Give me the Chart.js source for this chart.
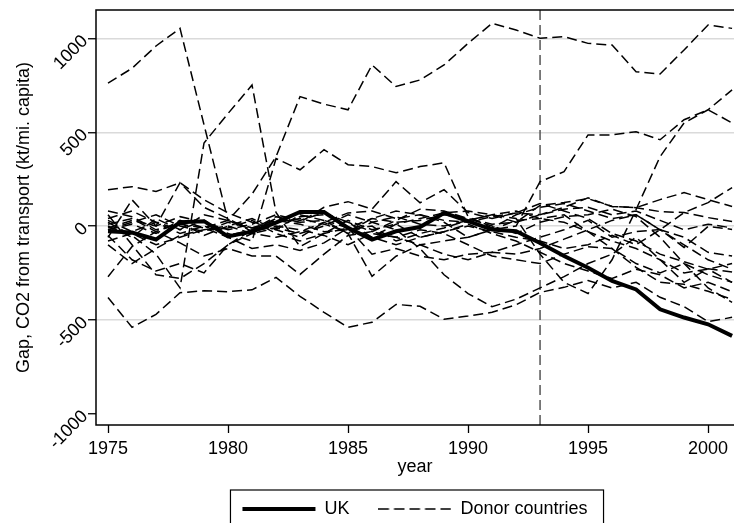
<!DOCTYPE html>
<html>
<head>
<meta charset="utf-8">
<script src="https://cdn.jsdelivr.net/npm/chart.js@4.4.0/dist/chart.umd.min.js"></script>
<style>
  body { margin: 0; background: #fff; }
  #wrap { width: 734px; height: 523px; }
</style>
</head>
<body>
<div id="wrap"><canvas id="gap-Chart"></canvas></div>
<script>
// -------------------- DATA --------------------

const years = [1975, 1976, 1977, 1978, 1979, 1980, 1981, 1982, 1983, 1984, 1985, 1986, 1987, 1988,
  1989, 1990, 1991, 1992, 1993, 1994, 1995, 1996, 1997, 1998, 1999, 2000, 2001];

// UK gap (thick solid line)
const ukGap = [-28, -35, -72, 20, 26, -55, -30, 18, 75, 75, -10, -72, -28, -5, 70, 26, -19, -28, -90, -160, -222, -293, -338, -444, -488, -524, -586];

// Donor country gaps (dashed lines)
const donorA = [762, 841, 960, 1054, 540, 30, -20, 40, 20, 30, -10, 40, 20, 30, 60, 40, 10, 20, 60, 90, 100, 60, 80, 30, -20, 10, -10];
const donorB = [-20, 10, -40, 30, -10, 30, 170, 370, 690, 650, 620, 859, 744, 779, 859, 974, 1081, 1045, 1001, 1010, 974, 965, 823, 811, 939, 1072, 1054];
const donorC = [20, -50, -150, -330, 443, 600, 752, 72, -110, -40, 30, -20, 10, -60, -30, 10, -40, -80, -140, -200, -240, -280, -230, -260, -330, -300, -350];
const donorD = [0, -60, 40, -20, 30, -40, -80, 360, 300, 407, 327, 317, 284, 317, 337, 50, -10, 60, 100, 120, 80, 40, 60, -20, -100, -180, -230];
const donorE = [194, 210, 184, 231, 140, 70, 20, -20, 60, 30, -40, 20, 50, 10, 0, 30, 60, 80, 40, 20, -30, -80, -120, -180, -250, -230, -200];
const donorF = [-381, -540, -471, -356, -345, -350, -340, -274, -375, -460, -540, -513, -418, -428, -497, -480, -460, -420, -354, -327, -290, -330, -300, -380, -430, -510, -487];
const donorG = [-270, -110, -30, -90, -160, -120, -160, -160, -258, -150, -50, -30, -60, -100, -150, -180, -140, -150, -120, -70, -20, 30, 60, -20, -60, -140, -160];
const donorH = [60, -100, -260, -280, -200, -100, -40, -60, -30, 20, -40, -268, -161, -100, -80, -60, -20, 30, 40, 60, -30, -120, -220, -300, -311, -348, -391];
const donorI = [30, -30, 20, -40, 0, -50, -20, 50, 20, 100, 130, 90, 237, 124, 194, 72, 40, 70, 120, 80, 40, -40, -80, -150, -190, -230, -300];
const donorJ = [-50, -180, -240, -200, -250, -100, -20, -10, -40, 0, 60, 20, -20, -120, -260, -360, -430, -390, -330, -270, -200, -150, -60, -180, -300, -228, -245];
const donorK = [10, 40, -30, 20, -50, 0, 40, -20, -60, 20, 70, 80, 40, 60, 20, -60, -20, 0, 237, 290, 486, 486, 503, 460, 567, 620, 550];
const donorL = [-20, 20, 60, 0, -30, 20, -10, 30, 10, -30, -20, 0, -80, -40, -10, 30, 60, 40, -150, -300, -360, -180, 88, 370, 550, 620, 726];
const donorM = [40, 80, 20, -20, 60, 30, -10, 20, 40, 10, -30, 40, 80, 60, 30, 20, 50, 70, 60, 100, 150, 104, 98, 141, 178, 141, 104];
const donorN = [-80, -40, -100, -60, -20, -10, 30, -40, -80, -40, -10, -60, -100, -60, -30, 0, -30, -60, -80, -120, -100, -50, -100, -20, 72, 125, 205];
const donorO = [-10, 30, 0, 50, 20, -20, 10, 60, 30, 70, 20, -60, 10, 40, 70, 80, 60, 20, 110, 125, 146, 104, 98, 77, 72, 45, 24];
const donorP = [-60, 140, 0, 231, 100, 40, -30, 0, -20, -50, -100, -40, -60, -20, -40, -100, -160, -180, -200, -150, -110, -120, -200, -250, -200, -260, -300];
const donorQ = [80, 50, -20, 10, -10, -60, -120, -100, -130, -90, -10, -150, -120, -160, -180, -150, -140, -100, -60, -20, 30, -60, -30, -18, -114, -2, -18];
const donorR = [-100, -200, -120, -50, -20, 0, -40, -10, 50, 60, 20, -30, 30, 90, 80, 40, 0, -40, 20, 50, 60, 90, 50, -60, -200, -330, -407];

const donors = [donorA, donorB, donorC, donorD, donorE, donorF, donorG, donorH, donorI,
  donorJ, donorK, donorL, donorM, donorN, donorO, donorP, donorQ, donorR];

const xTicks = [1975, 1980, 1985, 1990, 1995, 2000];
const yTicks = [-1000, -500, 0, 500, 1000];
const treatYear = 1993; // vertical dashed line

// -------------------- HELPERS --------------------

function toPoints(vals) {
  return vals.map((v, i) => ({ x: years[i], y: v }));
}

// small dashed sample for the legend (legend ignores borderDash with point styles)
function dashSample() {
  const c = document.createElement("canvas");
  c.width = 73;
  c.height = 6;
  const g = c.getContext("2d");
  g.strokeStyle = "#000";
  g.lineWidth = 1.5;
  g.setLineDash([10.5, 5]);
  g.beginPath();
  g.moveTo(0, 3);
  g.lineTo(73, 3);
  g.stroke();
  return c;
}
const dashIcon = dashSample();

Chart.defaults.font.family = "'Liberation Sans', Arial, sans-serif";
Chart.defaults.font.size = 18;
Chart.defaults.color = "#000";

// frame round the plot, treatment line, box round the legend
const framePlugin = {
  id: "frame",
  beforeDatasetsDraw(chart) {
    const { ctx, chartArea: a, scales } = chart;
    const x = scales.x.getPixelForValue(treatYear);
    ctx.save();
    ctx.strokeStyle = "#555";
    ctx.lineWidth = 1.5;
    ctx.setLineDash([10, 5]);
    ctx.beginPath();
    ctx.moveTo(x, a.bottom);
    ctx.lineTo(x, a.top);
    ctx.stroke();
    ctx.restore();
  },
  afterDraw(chart) {
    const { ctx, chartArea: a, legend } = chart;
    ctx.save();
    ctx.strokeStyle = "#000";
    ctx.lineWidth = 1.5;
    ctx.strokeRect(a.left, a.top, a.right - a.left + 5, a.bottom - a.top);
    const hb = legend.legendHitBoxes;
    if (hb && hb.length) {
      const first = hb[0];
      const last = hb[hb.length - 1];
      const left = first.left - 12;
      const right = last.left + last.width + 16;
      ctx.lineWidth = 1.2;
      ctx.strokeRect(left, first.top - 10, right - left, 60);
    }
    ctx.restore();
  },
};

// -------------------- DATASETS --------------------

const datasets = [
  {
    label: "UK",
    data: toPoints(ukGap),
    borderColor: "#000",
    borderWidth: 4,
    pointRadius: 0,
    pointStyle: "line",
    tension: 0,
  },
];
donors.forEach((d) => {
  datasets.push({
    label: "Donor countries",
    data: toPoints(d),
    borderColor: "#000",
    borderWidth: 1.5,
    borderDash: [10, 5],
    pointRadius: 0,
    pointStyle: dashIcon,
    tension: 0,
  });
});

// -------------------- CHART --------------------

const ctx = document.getElementById("gap-Chart");
new Chart(ctx, {
  type: "line",
  data: { datasets },
  plugins: [framePlugin],
  options: {
    responsive: true,
    maintainAspectRatio: false,
    animation: false,
    layout: { padding: { top: 10, right: 0, bottom: -5, left: 0 } },
    plugins: {
      legend: {
        position: "bottom",
        fullSize: false,
        labels: {
          usePointStyle: true,
          pointStyleWidth: 73,
          padding: 29,
          color: "#000",
          font: { size: 18 },
          filter: (item) => item.datasetIndex < 2,
        },
      },
      tooltip: { enabled: false },
    },
    scales: {
      x: {
        type: "linear",
        min: 1974.5,
        max: 2001.08,
        afterBuildTicks: (s) => {
          s.ticks = xTicks.map((v) => ({ value: v }));
        },
        afterFit: (s) => {
          s.height = 46;
          s.paddingLeft = 0;
          s.paddingRight = 0;
        },
        grid: { drawOnChartArea: false, tickColor: "#000", tickLength: 8, tickWidth: 1.3 },
        border: { display: false },
        ticks: { color: "#000", padding: 5, maxRotation: 0, callback: (v) => String(v) },
        title: { display: true, text: "year", color: "#000", padding: { top: 0, bottom: -7 } },
      },
      y: {
        min: -1061,
        max: 1152,
        afterBuildTicks: (s) => {
          s.ticks = yTicks.map((v) => ({ value: v }));
        },
        afterFit: (s) => {
          s.width = 96;
          s.paddingTop = 0;
          s.paddingBottom = 0;
        },
        grid: {
          color: (c) => (c.tick && c.tick.value === -1000 ? "rgba(0,0,0,0)" : "#dadada"),
          lineWidth: 1.5,
          tickColor: "#000",
          tickLength: 8,
          tickWidth: 1.3,
        },
        border: { display: false },
        ticks: { color: "#000", padding: 3, minRotation: 45, maxRotation: 45, callback: (v) => String(v) },
        title: {
          display: true,
          text: "Gap, CO2 from transport (kt/mi. capita)",
          color: "#000",
          padding: { top: 13, bottom: 0 },
        },
      },
    },
  },
});
</script>
</body>
</html>
